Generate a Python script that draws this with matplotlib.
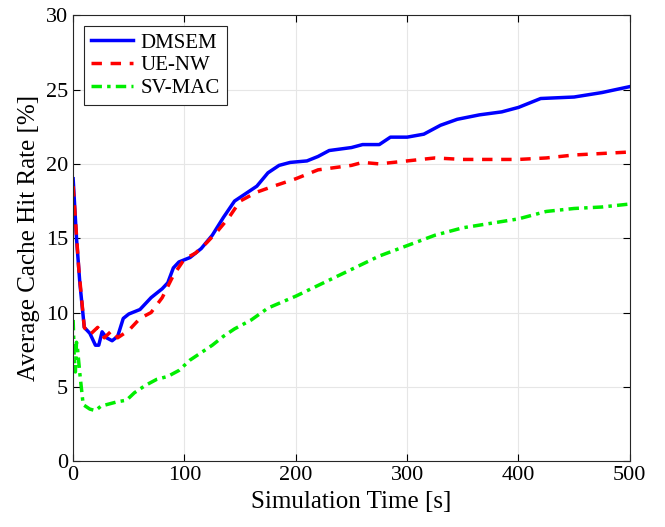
from matplotlib import pyplot as plt

# DMSEM
t_dm = [0, 3, 6, 10, 15, 20, 23, 26, 30, 35, 40, 45, 50, 60, 70, 80, 85, 90, 95,
        105, 115, 125, 135, 145, 155, 165, 175, 185, 195, 210, 220, 230, 250, 260,
        275, 285, 300, 315, 330, 345, 365, 385, 400, 420, 450, 475, 500]
y_dm = [19.0, 15.0, 12.0, 9.0, 8.6, 7.8, 7.8, 8.7, 8.3, 8.1, 8.4, 9.6, 9.9, 10.2,
        11.0, 11.6, 12.0, 13.0, 13.4, 13.7, 14.3, 15.2, 16.4, 17.5, 18.0, 18.5,
        19.4, 19.9, 20.1, 20.2, 20.5, 20.9, 21.1, 21.3, 21.3, 21.8, 21.8, 22.0,
        22.6, 23.0, 23.3, 23.5, 23.8, 24.4, 24.5, 24.8, 25.2]

# UE-NW
t_ue = [0, 5, 10, 15, 22, 28, 35, 40, 50, 60, 70, 80, 90, 100, 110, 120, 130,
        140, 150, 165, 180, 200, 220, 250, 260, 275, 300, 325, 350, 400, 425,
        450, 500]
y_ue = [18.5, 13.0, 9.0, 8.5, 9.0, 8.3, 8.8, 8.3, 8.8, 9.6, 10.0, 11.0, 12.5,
        13.6, 14.0, 14.7, 15.5, 16.4, 17.5, 18.1, 18.5, 19.0, 19.6, 19.9, 20.1,
        20.0, 20.2, 20.4, 20.3, 20.3, 20.4, 20.6, 20.8]

# SV-MAC
t_sv = [0, 1, 2, 3, 4, 6, 9, 15, 20, 25, 30, 40, 48, 55, 65, 75, 85, 95, 105,
        115, 125, 135, 145, 160, 175, 200, 225, 250, 275, 300, 325, 350, 375,
        400, 425, 450, 475, 500]
y_sv = [9.5, 7.0, 6.0, 8.0, 7.5, 5.9, 3.8, 3.5, 3.4, 3.7, 3.8, 4.0, 4.1, 4.6,
        5.1, 5.5, 5.7, 6.1, 6.8, 7.3, 7.8, 8.4, 8.9, 9.5, 10.3, 11.1, 12.0, 12.9,
        13.8, 14.5, 15.2, 15.7, 16.0, 16.3, 16.8, 17.0, 17.1, 17.3]

def main():
    plt.rcParams['font.family'] = ['Liberation Serif', 'DejaVu Serif']
    fig = plt.figure(figsize=(6.65, 5.27), dpi=100)
    ax = fig.add_axes([0.11, 0.125, 0.837, 0.846])

    ax.plot(t_dm, y_dm, color='#0000ff', lw=2.5, label='DMSEM')
    ax.plot(t_ue, y_ue, color='#ff0000', lw=2.5, ls=(0, (3, 2.5)), label='UE-NW')
    ax.plot(t_sv, y_sv, color='#00ee00', lw=2.5, ls=(0, (3, 1.5, 1, 1.5)),
            label='SV-MAC')

    ax.set_xlim(0, 500)
    ax.set_ylim(0, 30)
    ax.set_xticks(range(0, 501, 100))
    ax.set_yticks(range(0, 31, 5))
    ax.grid(True, color='#e6e6e6', lw=0.8)
    ax.set_axisbelow(True)
    ax.tick_params(direction='in', labelsize=16, top=True, right=True, length=5)
    for s in ax.spines.values():
        s.set_linewidth(0.8)
        s.set_color('#262626')

    ax.set_xlabel("Simulation Time [s]", fontsize=18)
    ax.set_ylabel("Average Cache Hit Rate [%]", fontsize=18)

    leg = ax.legend(loc='upper left', fontsize=15, fancybox=False,
                    edgecolor='#262626', framealpha=1, handlelength=2.0,
                    handletextpad=0.4, borderaxespad=0.5, labelspacing=0.15,
                    borderpad=0.35)
    leg.get_frame().set_linewidth(0.8)

    plt.savefig('out.png', dpi=100)

if __name__ == "__main__":
    main()
